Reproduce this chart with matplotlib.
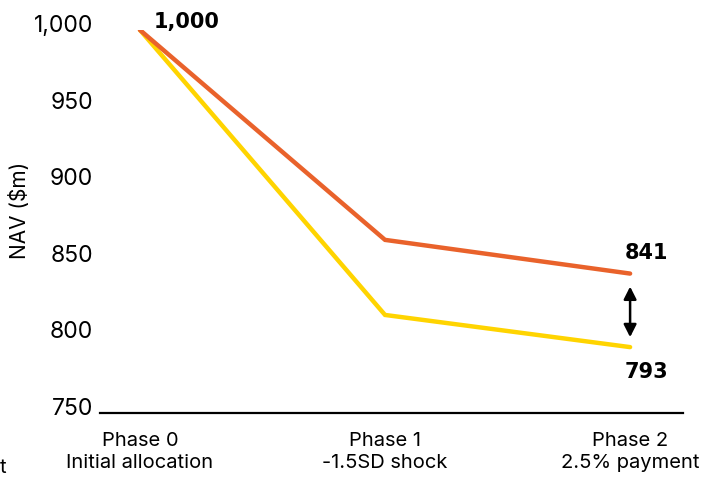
import matplotlib
matplotlib.use("Agg")
import matplotlib.pyplot as plt
from matplotlib.transforms import ScaledTranslation

# Data
phases = ["Phase 0\nInitial allocation", "Phase 1\n-1.5SD shock", "Phase 2\n2.5% payment"]
nav_upper = [1000, 863, 841]
nav_lower = [1000, 814, 793]
y_ticks = [750, 800, 850, 900, 950, 1000]

ORANGE = "#E9622B"
YELLOW = "#FFD400"
REG = "Inter"
BOLD = "DejaVu Sans"

fig = plt.figure(figsize=(7.18, 4.79), dpi=100)
ax = fig.add_axes([0.1393, 0.1378, 0.812, 0.7996])

x = list(range(len(phases)))
ax.plot(x, nav_lower, color=YELLOW, lw=3.2, solid_capstyle="round", solid_joinstyle="miter", zorder=2)
ax.plot(x, nav_upper, color=ORANGE, lw=3.2, solid_capstyle="round", solid_joinstyle="miter", zorder=3)

ax.set_xlim(-0.163, 2.216)
ax.set_ylim(750, 1000)
ax.set_yticks(y_ticks)
ax.set_yticklabels([f"{v:,}" for v in y_ticks], fontsize=16.5, family=REG)
ax.set_xticks(x)
ax.set_xticklabels(phases, fontsize=14.5, family=REG, linespacing=1.25)
ax.tick_params(axis="both", length=0)
ax.tick_params(axis="y", pad=5)
ax.tick_params(axis="x", pad=14)

# lift the value labels a little above their gridline position
lift = ScaledTranslation(0, 0.065, fig.dpi_scale_trans)
for lbl in ax.get_yticklabels():
    lbl.set_transform(lbl.get_transform() + lift)

for s in ("top", "right", "left"):
    ax.spines[s].set_visible(False)
ax.spines["bottom"].set_linewidth(1.6)
ax.spines["bottom"].set_color("black")

ax.set_ylabel("NAV ($m)", fontsize=15, family=REG)
ax.yaxis.set_label_coords(-0.12, 0.53)

# value callouts
for val, xi, dx, dy in [(nav_upper[0], x[0], 10, 6), (nav_upper[-1], x[-1], -4, 15),
                        (nav_lower[-1], x[-1], -4, -18)]:
    ax.annotate(f"{val:,}", xy=(xi, val), xytext=(dx, dy),
                textcoords="offset points", ha="left", va="center",
                fontsize=15, family=BOLD, fontweight="bold")

# gap arrow between the two end values
ax.annotate("", xy=(x[-1], nav_upper[-1] - 8.5), xytext=(x[-1], nav_lower[-1] + 6.5),
            arrowprops=dict(arrowstyle="<|-|>,head_length=0.75,head_width=0.38",
                            color="black", lw=1.8, shrinkA=0, shrinkB=0))

fig.text(0.0, 0.023, "t", fontsize=14.5, family=REG, ha="left", va="center")

fig.savefig("out.png", dpi=100)
